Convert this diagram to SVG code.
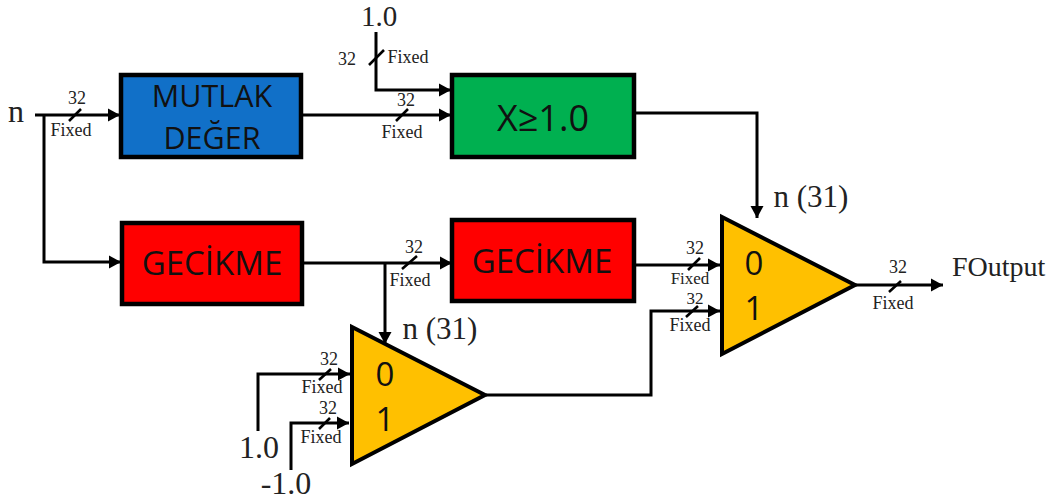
<svg xmlns="http://www.w3.org/2000/svg" width="1051" height="499" viewBox="0 0 1051 499">
<defs>
<marker id="arr" markerUnits="userSpaceOnUse" markerWidth="14" markerHeight="14" refX="12" refY="7" orient="auto"><path d="M0,0.5L12,7L0,13.5Z" fill="#000"/></marker>
</defs>
<style>
.box{stroke:#000;stroke-width:4.5}
.tri{fill:#FFC000;stroke:#000;stroke-width:4;stroke-linejoin:miter}
.c{fill:none;stroke:#000;stroke-width:3}
.tick{fill:none;stroke:#000;stroke-width:2.6}
.b{font-family:"Open Sans","Noto Sans","Liberation Sans",sans-serif;fill:#111;text-anchor:middle}
.s{font-family:"Liberation Serif",serif;font-size:18px;fill:#222;text-anchor:middle}
.l{font-family:"Liberation Serif",serif;font-size:32px;fill:#222;text-anchor:middle}
</style>
<rect width="1051" height="499" fill="#fff"/>
<g id="connectors">
<path class="c" d="M35,115H120" marker-end="url(#arr)"/>
<path class="c" d="M44,115V262H121" marker-end="url(#arr)"/>
<path class="c" d="M302,115H451" marker-end="url(#arr)"/>
<path class="c" d="M376,32V90H451" marker-end="url(#arr)"/>
<path class="c" d="M634,113H757V218" marker-end="url(#arr)"/>
<path class="c" d="M303,263H452" marker-end="url(#arr)"/>
<path class="c" d="M385,263V344" marker-end="url(#arr)"/>
<path class="c" d="M635,265H720" marker-end="url(#arr)"/>
<path class="c" d="M486,395H651V311H720" marker-end="url(#arr)"/>
<path class="c" d="M258,431V374H350" marker-end="url(#arr)"/>
<path class="c" d="M291,470V423H349" marker-end="url(#arr)"/>
<path class="c" d="M855,285H943" marker-end="url(#arr)"/>
<path class="tick" d="M69,121L81,109M396,121L408,109M369,65L384,50M402,269L417,256"/>
<path class="tick" d="M688,270L700,258M686,317L698,306M889,292L901,281M319,380L331,369M319,429L330,418"/>
</g>
<g id="mutlak"><rect class="box" x="121" y="75" width="180" height="82" fill="#1170C8"/><text class="b" font-size="30.5" x="212" y="107">MUTLAK</text><text class="b" font-size="30.5" x="212" y="149">DEĞER</text></g>
<g id="compare"><rect class="box" x="452" y="75" width="182" height="82" fill="#00B050"/><text class="b" font-size="36" x="543" y="131">X≥1.0</text></g>
<g id="gecikme1"><rect class="box" x="122" y="223" width="180" height="81" fill="#FF0000"/><text class="b" font-size="33" x="212" y="275">GECİKME</text></g>
<g id="gecikme2"><rect class="box" x="452" y="220" width="182" height="81" fill="#FF0000"/><text class="b" font-size="33" x="542" y="273">GECİKME</text></g>
<g id="mux1"><polygon class="tri" points="352,327 352,464 485,395"/><text class="b" font-size="33" x="385" y="386">0</text><text class="b" font-size="33" x="385" y="431">1</text></g>
<g id="mux2"><polygon class="tri" points="722,217 722,354 855,285"/><text class="b" font-size="33" x="754" y="275">0</text><text class="b" font-size="33" x="754" y="320">1</text></g>
<g id="labels">
<text class="l" x="16" y="122">n</text>
<text class="l" style="font-size:29px" x="379" y="26">1.0</text>
<text class="l" x="259" y="458">1.0</text>
<text class="l" x="286" y="494">-1.0</text>
<text class="l" style="font-size:31px" x="811" y="207">n (31)</text>
<text class="l" style="font-size:31px" x="440" y="339">n (31)</text>
<text x="952" y="276" style="font-family:'Liberation Serif',serif;font-size:28px;fill:#222">FOutput</text>
<text class="s" x="77" y="104">32</text><text class="s" x="71" y="136">Fixed</text>
<text class="s" x="406" y="106">32</text><text class="s" x="402" y="138">Fixed</text>
<text class="s" x="347" y="65">32</text><text class="s" x="408" y="63">Fixed</text>
<text class="s" x="414" y="253">32</text><text class="s" x="410" y="286">Fixed</text>
<text class="s" x="695" y="254">32</text><text class="s" style="font-size:17px" x="690" y="284">Fixed</text>
<text class="s" style="font-size:17px" x="695" y="304">32</text><text class="s" x="690" y="331">Fixed</text>
<text class="s" x="898" y="273">32</text><text class="s" x="893" y="309">Fixed</text>
<text class="s" x="329" y="365">32</text><text class="s" x="322" y="393">Fixed</text>
<text class="s" x="328" y="414">32</text><text class="s" x="321" y="443">Fixed</text>
</g>
</svg>
